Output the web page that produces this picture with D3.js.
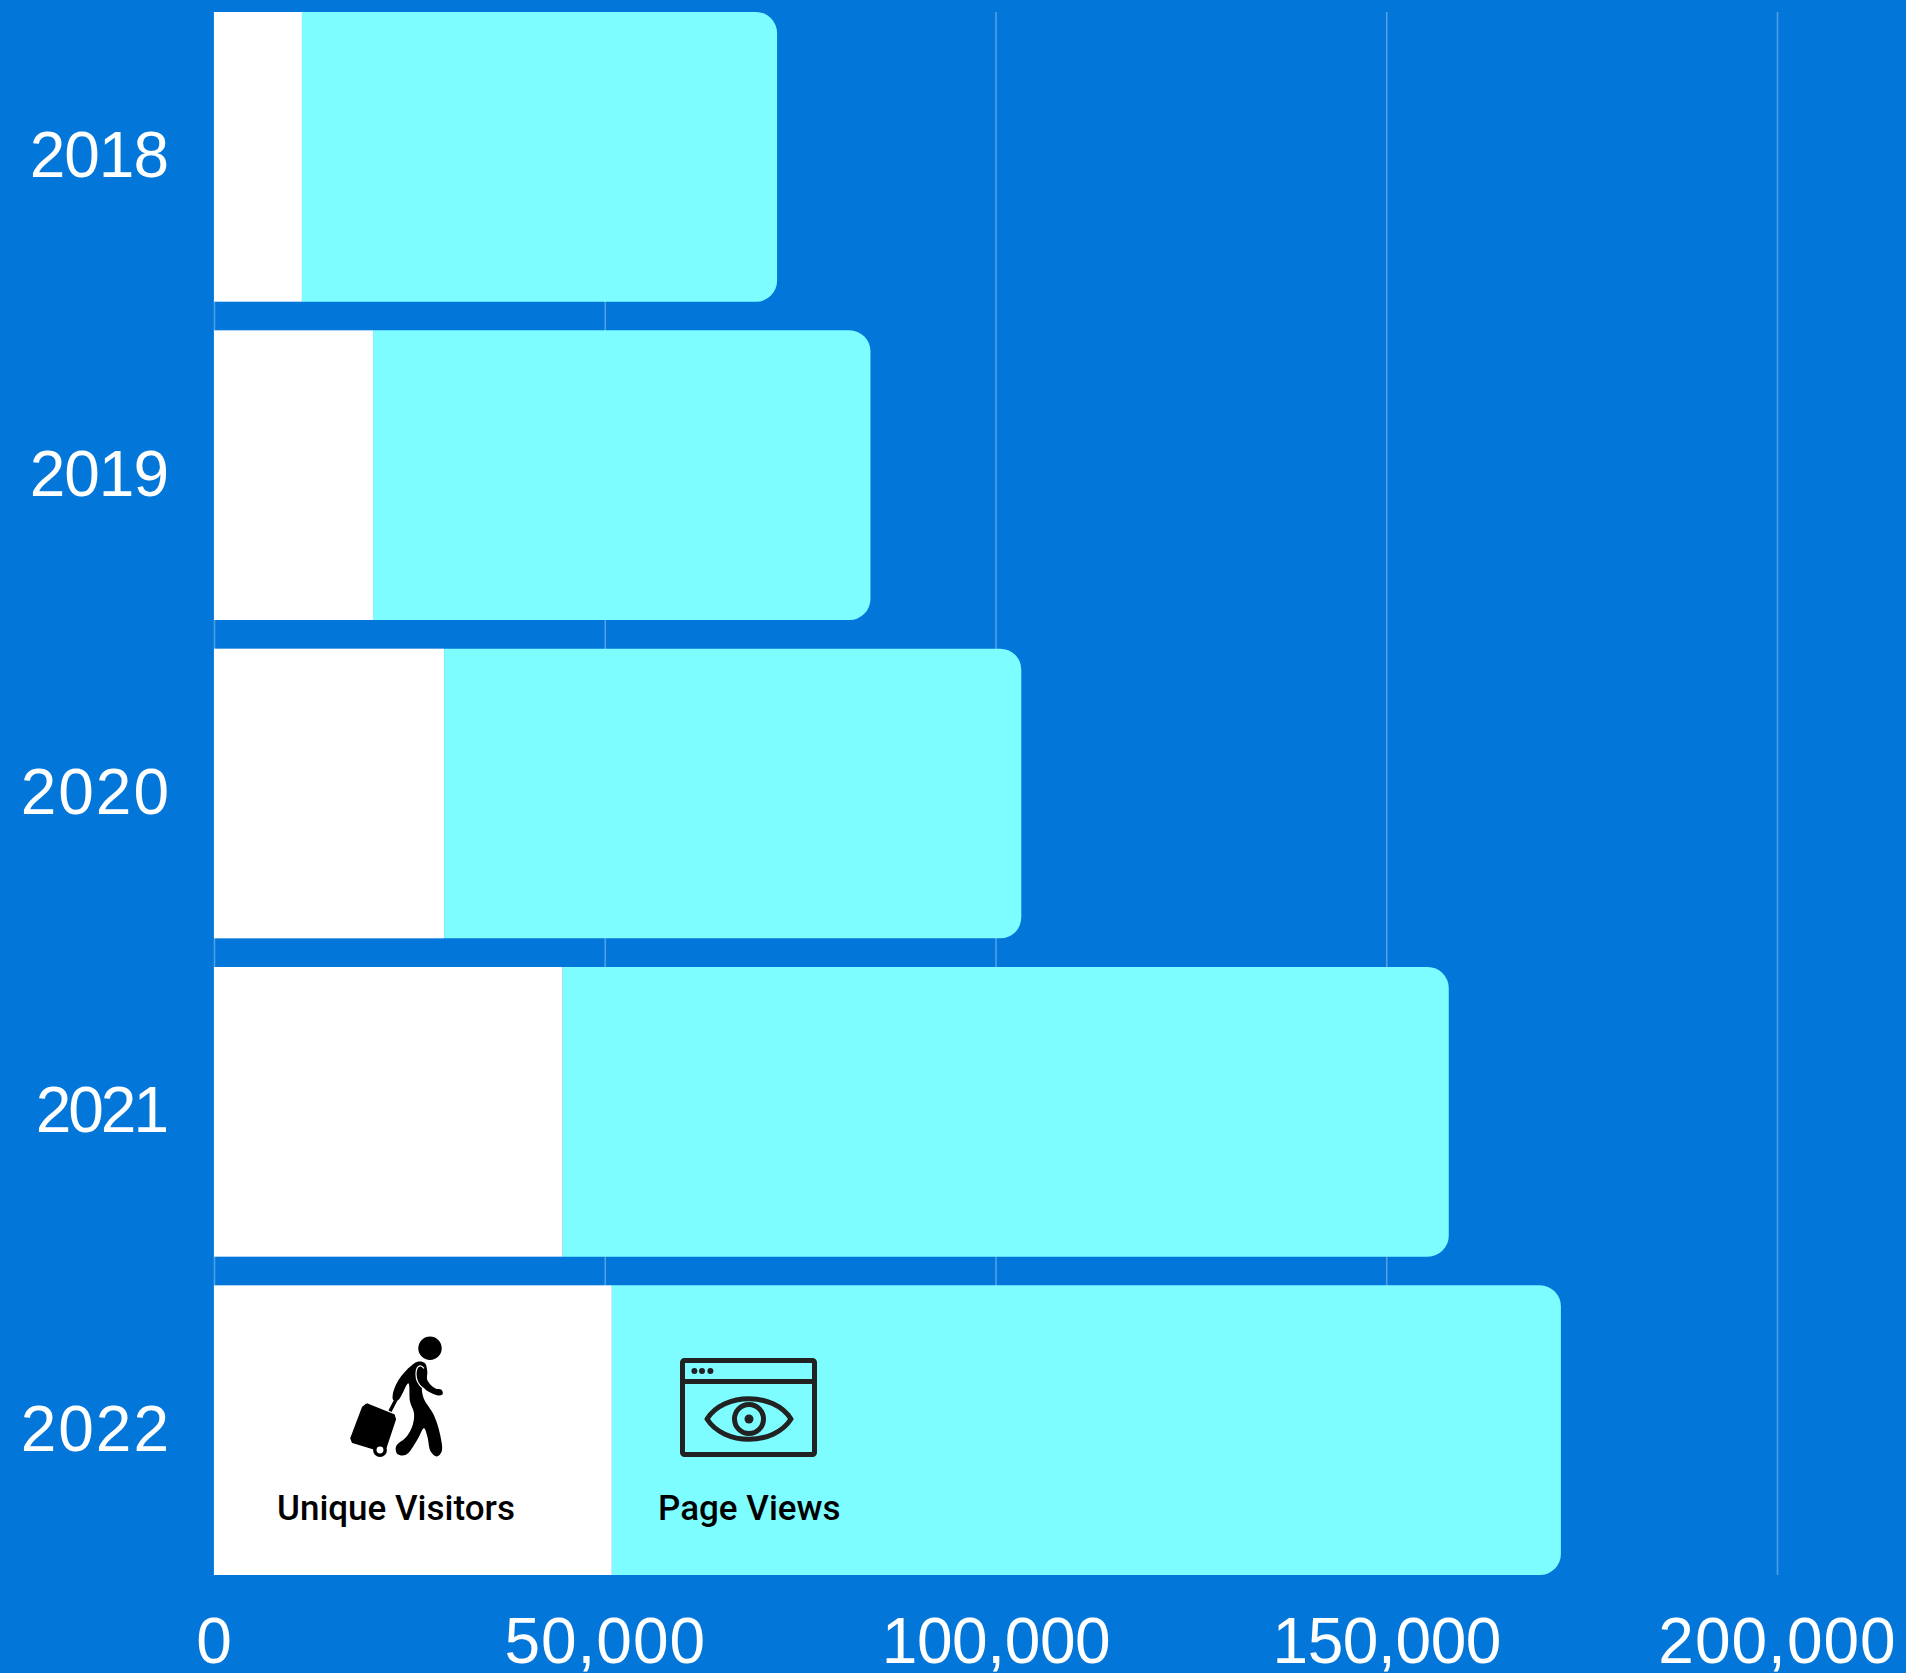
<!DOCTYPE html>
<html>
<head>
<meta charset="utf-8">
<script src="https://cdn.jsdelivr.net/npm/d3@7"></script>
<style>
  body { margin: 0; background: #0277d9; }
  svg { display: block; }
  .tick text { font-family: "Liberation Sans", sans-serif; font-size: 64px; fill: #fff; }
  .legend-label { font-family: Roboto, sans-serif; font-weight: 500; font-size: 35px; fill: #000; }
</style>
</head>
<body>
<svg id="chart" width="1906" height="1673"></svg>
<script>
// Values
const years = ["2018", "2019", "2020", "2021", "2022"];
const uniqueVisitors = [11250, 20350, 29450, 44600, 50900];
const pageViews = [60800, 63650, 73850, 113400, 121450];
const xTicks = [0, 50000, 100000, 150000, 200000];

// the font has tabular digits, the reference has a narrow 1
const yearTracking = [-1, -1, 2, -3, 2];
const xTickTracking = [1, 1, -0.4, -0.4, 1];

const aqua = "#7dfdff", iconInk = "#222222";

const svg = d3.select("#chart");

const x = d3.scaleLinear().domain([0, 200000]).range([214, 1777]);
const y = d3.scaleBand().domain(years).range([12, 1575]).paddingInner(0.09);

// x axis, the long ticks are the gridlines so it goes in behind the bars
const xAxis = d3.axisBottom(x)
    .tickValues(xTicks)
    .tickFormat(d3.format(","))
    .tickSizeInner(-1563)
    .tickSizeOuter(0);

const xGroup = svg.append("g")
    .attr("transform", "translate(0,1575)")
    .call(xAxis);
xGroup.select(".domain").remove();
xGroup.selectAll(".tick line")
    .attr("stroke", "#fff")
    .attr("stroke-opacity", 0.3)
    .attr("stroke-width", 1.6);
xGroup.selectAll(".tick text")
    .attr("y", 88)
    .attr("dy", 0)
    .attr("letter-spacing", (d, i) => xTickTracking[i]);

const yAxis = d3.axisLeft(y).tickSize(0).tickPadding(45);
const yGroup = svg.append("g")
    .attr("transform", "translate(214,0)")
    .call(yAxis);
yGroup.select(".domain").remove();
// letter spacing also trails the last digit, dx takes that back out
yGroup.selectAll(".tick text")
    .attr("letter-spacing", (d, i) => yearTracking[i])
    .attr("dx", (d, i) => yearTracking[i]);

// page views bar, only the right corners are round
function roundRight(x0, x1, top, h, r) {
    const p = d3.path();
    p.moveTo(x0, top);
    p.lineTo(x1 - r, top);
    p.arcTo(x1, top, x1, top + r, r);
    p.lineTo(x1, top + h - r);
    p.arcTo(x1, top + h, x1 - r, top + h, r);
    p.lineTo(x0, top + h);
    p.closePath();
    return p.toString();
}

svg.append("g").selectAll("path")
    .data(years)
    .join("path")
    .attr("fill", aqua)
    .attr("d", (d, i) => roundRight(x(uniqueVisitors[i]), x(uniqueVisitors[i] + pageViews[i]), y(d), y.bandwidth(), 21));

svg.append("g").selectAll("rect")
    .data(years)
    .join("rect")
    .attr("fill", "#fff")
    .attr("x", x(0))
    .attr("y", d => y(d))
    .attr("width", (d, i) => x(uniqueVisitors[i]) - x(0))
    .attr("height", y.bandwidth());

// walking traveller icon, points are relative to the centre of the head
const walkerBody = [[-11.7, 13.3], [-5, 15], [-2.7, 23.3], [-2.7, 31.7], [5, 40], [11.7, 41.7], [12.7, 45.7],
    [8.3, 47.3], [-1.7, 43.3], [-7.7, 39], [-6.3, 50], [3.8, 66.7], [9.8, 85], [11.7, 103.3], [6.7, 108.3],
    [0.7, 103.3], [-2.7, 88], [-6, 80], [-13, 92], [-24, 106.5], [-32.7, 105.7], [-34, 98.3], [-23.3, 88.3],
    [-17.3, 76.7], [-16, 65], [-20, 53.3], [-21.7, 35], [-31.7, 51.7], [-36.7, 51.7], [-37.3, 46.7], [-33.3, 35],
    [-23.3, 21.7]];
const walkerCase = [[-63.3, 55.7], [-36, 66.7], [-34.7, 71], [-44, 99], [-48, 103], [-77.5, 94], [-79, 90], [-67.3, 59]];

const smooth = d3.line().curve(d3.curveCatmullRomClosed.alpha(0.5));
const walker = svg.append("g").attr("transform", "translate(430,1348.3)");
walker.append("circle").attr("r", 11.7);
walker.append("path").attr("d", smooth(walkerBody));
walker.append("path").attr("d", d3.line()(walkerCase.concat([walkerCase[0]]))).attr("stroke", "#000").attr("stroke-linejoin", "round").attr("stroke-width", 1.5);
walker.append("path").attr("d", "M-33.3,50L-40,63").attr("stroke", "#000").attr("stroke-width", 3.5);
walker.append("path").attr("d", "M-6,20C-10,15 -14,18 -14,26C-14,33 -11,37 -7,40").attr("fill", "none").attr("stroke", "#fff").attr("stroke-width", 1.2);
walker.append("circle").attr("cx", -50).attr("cy", 101.7).attr("r", 5.2).attr("fill", "#fff").attr("stroke", "#000").attr("stroke-width", 3.5);

// browser window with an eye
const browser = svg.append("g").attr("transform", "translate(749,1419)")
    .attr("fill", "none").attr("stroke", iconInk).attr("stroke-width", 5);
browser.append("rect").attr("x", -66.5).attr("y", -58.5).attr("width", 132).attr("height", 94).attr("rx", 2);
browser.append("path").attr("d", "M-66.5,-37.5H65.5");
browser.append("path").attr("d", "M-42,0C-25,-27 25,-27 42,0C25,27 -25,27 -42,0Z").attr("stroke-linejoin", "round");
browser.append("circle").attr("r", 14.5);
browser.append("circle").attr("r", 4.5).attr("fill", iconInk).attr("stroke", "none");
browser.selectAll(".dot")
    .data([-54.6, -47, -38.6])
    .join("circle")
    .attr("class", "dot")
    .attr("cx", d => d).attr("cy", -48).attr("r", 3)
    .attr("fill", iconInk).attr("stroke", "none");

svg.append("text").attr("class", "legend-label").attr("x", 277).attr("y", 1520).text("Unique Visitors");
svg.append("text").attr("class", "legend-label").attr("x", 658).attr("y", 1520).text("Page Views");
</script>
</body>
</html>
